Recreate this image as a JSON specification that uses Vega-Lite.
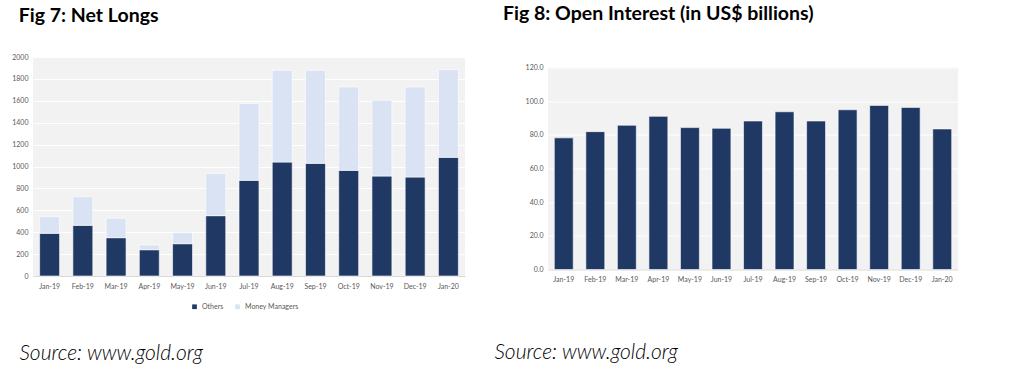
{
  "$schema": "https://vega.github.io/schema/vega-lite/v6.json",
  "background": "white",
  "padding": {"left": 11, "top": 4, "right": 5, "bottom": 0},
  "spacing": 29,
  "center": true,
  "config": {
    "font": "Lato",
    "view": {"stroke": null, "fill": "#f2f2f2"},
    "axis": {"labelFont": "Lato", "labelFontSize": 7, "labelColor": "#595959", "gridColor": "#ffffff", "gridWidth": 1},
    "title": {"font": "Lato", "fontSize": 19.5, "fontWeight": "bold", "color": "#000000", "anchor": "start", "frame": "bounds"}
  },
  "hconcat": [
    {
      "width": 432,
      "height": 219,
      "title": {"text": "Fig 7: Net Longs", "dx": 7, "offset": 27},
      "data": {"values": [
        {"month": "Jan-19", "series": "Others", "value": 390},
        {"month": "Jan-19", "series": "Money Managers", "value": 152},
        {"month": "Feb-19", "series": "Others", "value": 463},
        {"month": "Feb-19", "series": "Money Managers", "value": 261},
        {"month": "Mar-19", "series": "Others", "value": 350},
        {"month": "Mar-19", "series": "Money Managers", "value": 177},
        {"month": "Apr-19", "series": "Others", "value": 240},
        {"month": "Apr-19", "series": "Money Managers", "value": 43},
        {"month": "May-19", "series": "Others", "value": 295},
        {"month": "May-19", "series": "Money Managers", "value": 101},
        {"month": "Jun-19", "series": "Others", "value": 551},
        {"month": "Jun-19", "series": "Money Managers", "value": 384},
        {"month": "Jul-19", "series": "Others", "value": 874},
        {"month": "Jul-19", "series": "Money Managers", "value": 700},
        {"month": "Aug-19", "series": "Others", "value": 1041},
        {"month": "Aug-19", "series": "Money Managers", "value": 837},
        {"month": "Sep-19", "series": "Others", "value": 1029},
        {"month": "Sep-19", "series": "Money Managers", "value": 849},
        {"month": "Oct-19", "series": "Others", "value": 965},
        {"month": "Oct-19", "series": "Money Managers", "value": 761},
        {"month": "Nov-19", "series": "Others", "value": 913},
        {"month": "Nov-19", "series": "Money Managers", "value": 691},
        {"month": "Dec-19", "series": "Others", "value": 904},
        {"month": "Dec-19", "series": "Money Managers", "value": 822},
        {"month": "Jan-20", "series": "Others", "value": 1084},
        {"month": "Jan-20", "series": "Money Managers", "value": 800}
      ]},
      "mark": {"type": "bar", "stroke": "#ffffff", "strokeWidth": 0.6},
      "encoding": {
        "x": {
          "field": "month", "type": "nominal", "sort": null,
          "scale": {"paddingInner": 0.4, "paddingOuter": 0.2},
          "axis": {
            "labelAngle": 0, "ticks": false, "domainColor": "#d9d9d9", "labelPadding": 6,
            "title": ["Source: www.gold.org", ""], "titleLineHeight": 10, "titleFont": "Lato", "titleFontSize": 21, "titleFontStyle": "italic",
            "titleFontWeight": 300, "titleColor": "#000000", "titleAnchor": "start", "titleAlign": "left",
            "titleX": -14, "titleY": 83, "titleBaseline": "alphabetic"
          }
        },
        "y": {
          "field": "value", "type": "quantitative", "stack": "zero",
          "scale": {"domain": [0, 2000], "nice": false},
          "axis": {"title": null, "values": [0, 200, 400, 600, 800, 1000, 1200, 1400, 1600, 1800, 2000], "format": "d", "domain": false, "ticks": false, "labelPadding": 5}
        },
        "color": {
          "field": "series", "type": "nominal",
          "scale": {"domain": ["Others", "Money Managers"], "range": ["#1f3864", "#dae3f3"]},
          "legend": {
            "title": null, "orient": "none", "legendX": 158, "legendY": 246, "direction": "horizontal",
            "symbolType": "square", "symbolSize": 22, "symbolStrokeWidth": 0, "labelFontSize": 7, "labelColor": "#595959",
            "labelFont": "Lato", "columnPadding": 10, "symbolOffset": 0
          }
        },
        "order": {"field": "series", "sort": "descending"}
      }
    },
    {
      "width": 410,
      "height": 202,
      "title": {"text": "Fig 8: Open Interest (in US$ billions)", "dx": 9, "offset": 39},
      "data": {"values": [
        {"month": "Jan-19", "value": 78.2},
        {"month": "Feb-19", "value": 81.9},
        {"month": "Mar-19", "value": 85.7},
        {"month": "Apr-19", "value": 91.0},
        {"month": "May-19", "value": 84.3},
        {"month": "Jun-19", "value": 83.9},
        {"month": "Jul-19", "value": 88.2},
        {"month": "Aug-19", "value": 93.7},
        {"month": "Sep-19", "value": 88.2},
        {"month": "Oct-19", "value": 94.9},
        {"month": "Nov-19", "value": 97.5},
        {"month": "Dec-19", "value": 96.3},
        {"month": "Jan-20", "value": 83.5}
      ]},
      "mark": {"type": "bar", "color": "#1f3864", "stroke": "#ffffff", "strokeWidth": 0.6},
      "encoding": {
        "x": {
          "field": "month", "type": "nominal", "sort": null,
          "scale": {"paddingInner": 0.4, "paddingOuter": 0.2},
          "axis": {
            "labelAngle": 0, "ticks": false, "domainColor": "#d9d9d9", "labelPadding": 6,
            "title": "Source: www.gold.org", "titleFont": "Lato", "titleFontSize": 21, "titleFontStyle": "italic",
            "titleFontWeight": 300, "titleColor": "#000000", "titleAnchor": "start", "titleAlign": "left",
            "titleX": -54, "titleY": 89, "titleBaseline": "alphabetic"
          }
        },
        "y": {
          "field": "value", "type": "quantitative",
          "scale": {"domain": [0, 120], "nice": false},
          "axis": {"title": null, "values": [0, 20, 40, 60, 80, 100, 120], "format": ".1f", "domain": false, "ticks": false, "labelPadding": 5}
        }
      }
    }
  ]
}
